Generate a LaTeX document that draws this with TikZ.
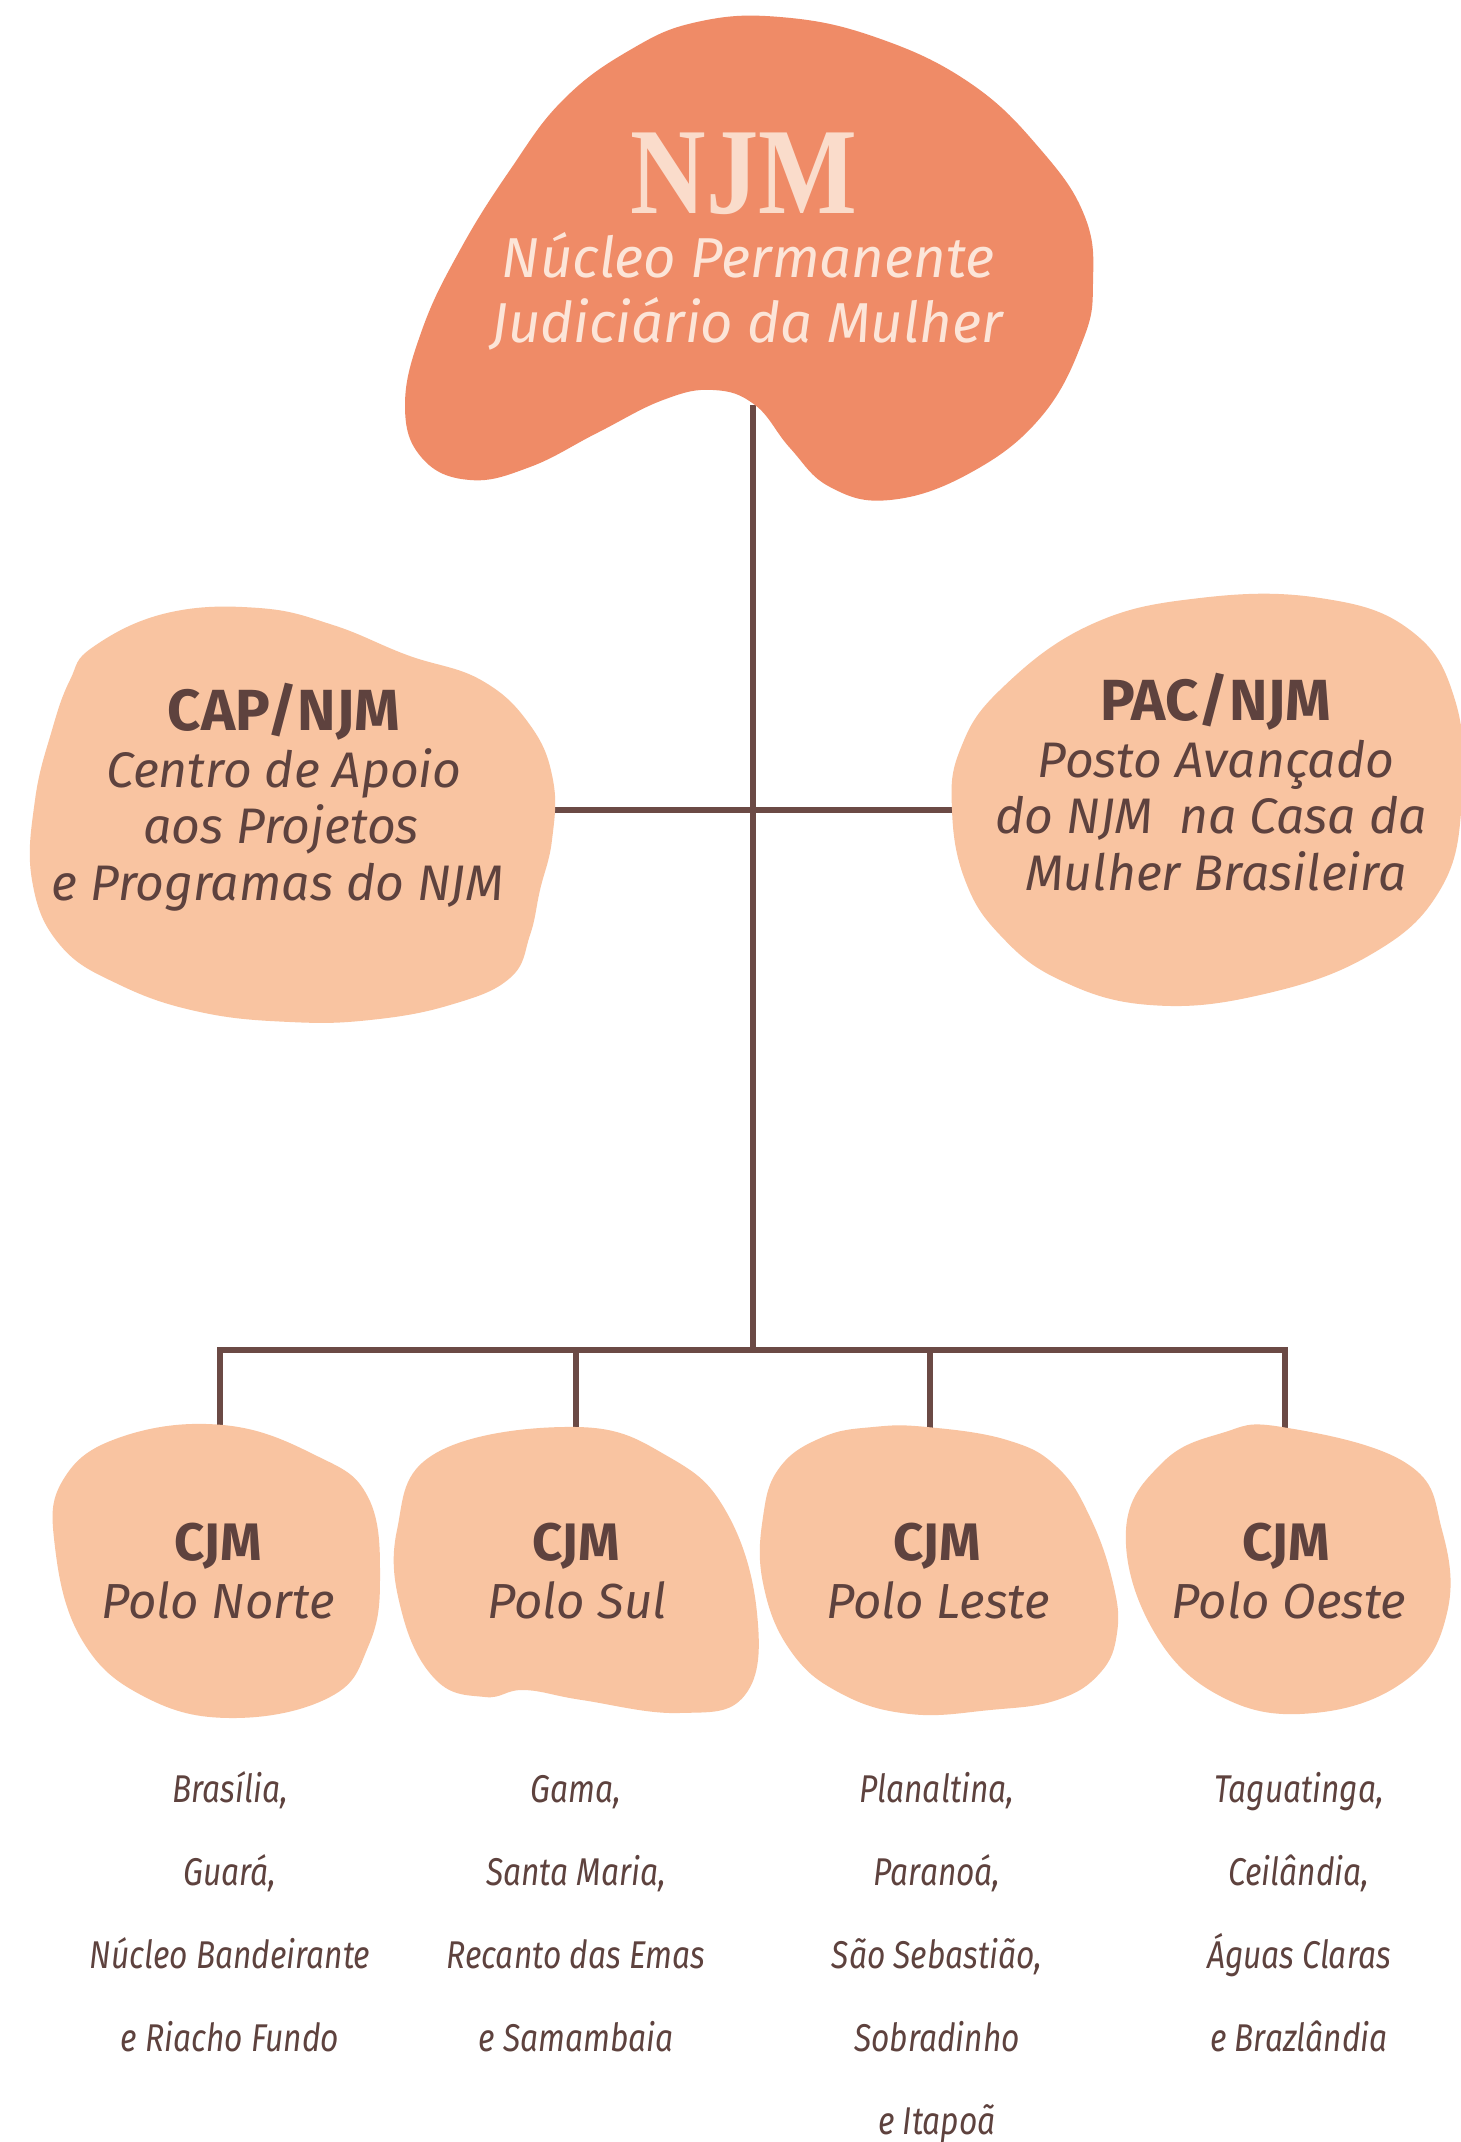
\documentclass[tikz,border=0pt]{standalone}
\usepackage{fontspec}
\setmainfont{Fira Sans}
\newfontfamily\njmfont{Liberation Serif}
\newfontfamily\condfont[FakeStretch=0.82]{Fira Sans}
\definecolor{njmC}{HTML}{EF8B67}
\definecolor{peachC}{HTML}{F9C4A1}
\definecolor{lineC}{HTML}{6B4A45}
\definecolor{textC}{HTML}{5E423E}
\definecolor{lightT}{HTML}{FADCCB}
\definecolor{subT}{HTML}{FCE5D8}
\begin{document}
\begin{tikzpicture}[x=0.01cm,y=-0.01cm,
  conn/.style={draw=lineC,line width=1.5pt},
  bigblob/.style={fill=njmC},
  blob/.style={fill=peachC},
  njmtitle/.style={font=\njmfont\bfseries\fontsize{35}{40}\selectfont,text=lightT,anchor=base,inner sep=0pt},
  njmsub/.style={font=\fontsize{16}{18}\selectfont\itshape,text=subT,anchor=base,inner sep=0pt},
  boxtitle/.style={font=\fontsize{16.5}{18}\selectfont\bfseries,text=textC,anchor=base,inner sep=0pt},
  boxsub/.style={font=\fontsize{14.2}{16}\selectfont\itshape,text=textC,anchor=base,inner sep=0pt},
  cjmtitle/.style={font=\fontsize{15}{17}\selectfont\bfseries,text=textC,anchor=base,inner sep=0pt},
  cjmsub/.style={font=\fontsize{14}{16}\selectfont\itshape,text=textC,anchor=base,inner sep=0pt},
  place/.style={font=\condfont\itshape\fontsize{11}{13}\selectfont,text=textC,anchor=base,inner sep=0pt}
]
\useasboundingbox[fill=white] (0,0) rectangle (1460,2142);

% connector coordinates
\coordinate (njmB) at (753,405);
\coordinate (hub) at (753,1350);
\coordinate (capE) at (545,810);
\coordinate (pacW) at (956,810);
\coordinate (norteT) at (220,1432);
\coordinate (sulT) at (576,1432);
\coordinate (lesteT) at (930,1432);
\coordinate (oesteT) at (1285,1432);

% connectors
\draw[conn] (njmB) -- (hub);
\draw[conn] (capE) -- (pacW);
\draw[conn] (norteT) |- (hub) -| (oesteT);
\draw[conn] (sulT) -- (sulT |- hub);
\draw[conn] (lesteT) -- (lesteT |- hub);

% top blob
\fill[bigblob] plot[smooth cycle,tension=0.7] coordinates {
 (780,17) (875,37) (970,83) (1041,150) (1085,217) (1093,283) (1083,340)
 (1041,417) (970,473) (890,500) (830,487) (790,448) (755,405) (713,390)
 (663,400) (597,433) (530,467) (470,480) (422,458) (405,405) (422,330)
 (460,250) (510,170) (563,100) (630,50) (697,22)};

% CAP blob
\fill[blob] plot[smooth cycle,tension=0.7] coordinates {
 (93,647) (167,613) (259,608) (333,625) (407,655) (481,680) (530,725)
 (553,780) (552,840) (540,890) (530,935) (510,978) (450,1005) (370,1020)
 (290,1022) (200,1012) (120,985) (60,945) (32,880) (35,800) (52,730) (70,680)};

% PAC blob
\fill[blob] plot[smooth cycle,tension=0.7] coordinates {
 (952,810) (965,880) (1000,935) (1060,980) (1150,1005) (1260,995)
 (1370,955) (1440,890) (1462,800) (1455,700) (1410,630) (1320,598)
 (1200,598) (1090,625) (1000,690) (960,750)};

% bottom blobs
\fill[blob] plot[smooth cycle,tension=0.7] coordinates {
 (223,1425) (315,1455) (368,1497) (380,1580) (368,1647) (330,1697)
 (233,1718) (145,1697) (82,1640) (55,1547) (63,1480) (121,1437)};
\fill[blob] plot[smooth cycle,tension=0.7] coordinates {
 (577,1427) (669,1457) (727,1513) (757,1613) (745,1695) (679,1713)
 (582,1700) (524,1690) (485,1697) (436,1680) (402,1613) (397,1530) (436,1453)};
\fill[blob] plot[smooth cycle,tension=0.7] coordinates {
 (927,1427) (1007,1440) (1057,1467) (1090,1517) (1113,1583) (1117,1633)
 (1100,1673) (1057,1700) (990,1710) (910,1714) (840,1693) (790,1650)
 (763,1583) (763,1517) (780,1467) (823,1437) (873,1427)};
\fill[blob] plot[smooth cycle,tension=0.7] coordinates {
 (1282,1427) (1406,1463) (1442,1530) (1447,1613) (1406,1680) (1314,1713)
 (1222,1697) (1153,1630) (1126,1530) (1162,1463) (1222,1433)};

% top texts
\node[njmtitle] (njm) at (744,213) {\scalebox{0.85}[1]{NJM}};
\node[njmsub] (njm1) at (748,277) {Núcleo Permanente};
\node[njmsub] (njm2) at (747,342) {Judiciário da Mulher};

% CAP texts
\node[boxtitle] (cap) at (284,730) {CAP/NJM};
\node[boxsub] (cap1) at (284,787) {Centro de Apoio};
\node[boxsub] (cap2) at (281,843) {aos Projetos};
\node[boxsub] (cap3) at (278,900) {e Programas do NJM};

% PAC texts
\node[boxtitle] (pac) at (1216,720) {PAC/NJM};
\node[boxsub] (pac1) at (1216,777) {Posto Avançado};
\node[boxsub] (pac2) at (1211,833) {do NJM\ \ na Casa da};
\node[boxsub] (pac3) at (1216,890) {Mulher Brasileira};

% CJM texts
\node[cjmtitle] (norte) at (218,1560) {CJM};
\node[cjmsub] (norte1) at (218,1618) {Polo Norte};
\node[cjmtitle] (sul) at (576,1560) {CJM};
\node[cjmsub] (sul1) at (577,1618) {Polo Sul};
\node[cjmtitle] (leste) at (937,1560) {CJM};
\node[cjmsub] (leste1) at (938,1618) {Polo Leste};
\node[cjmtitle] (oeste) at (1286,1560) {CJM};
\node[cjmsub] (oeste1) at (1289,1618) {Polo Oeste};

% place lists
\node[place] (a1) at (230,1802) {Brasília,};
\node[place] (a2) at (230,1885) {Guará,};
\node[place] (a3) at (230,1968) {Núcleo Bandeirante};
\node[place] (a4) at (230,2051) {e Riacho Fundo};
\node[place] (b1) at (576,1802) {Gama,};
\node[place] (b2) at (576,1885) {Santa Maria,};
\node[place] (b3) at (576,1968) {Recanto das Emas};
\node[place] (b4) at (576,2051) {e Samambaia};
\node[place] (c1) at (937,1802) {Planaltina,};
\node[place] (c2) at (937,1885) {Paranoá,};
\node[place] (c3) at (937,1968) {São Sebastião,};
\node[place] (c4) at (937,2051) {Sobradinho};
\node[place] (c5) at (937,2134) {e Itapoã};
\node[place] (d1) at (1299,1802) {Taguatinga,};
\node[place] (d2) at (1299,1885) {Ceilândia,};
\node[place] (d3) at (1299,1968) {Águas Claras};
\node[place] (d4) at (1299,2051) {e Brazlândia};
\end{tikzpicture}
\end{document}
